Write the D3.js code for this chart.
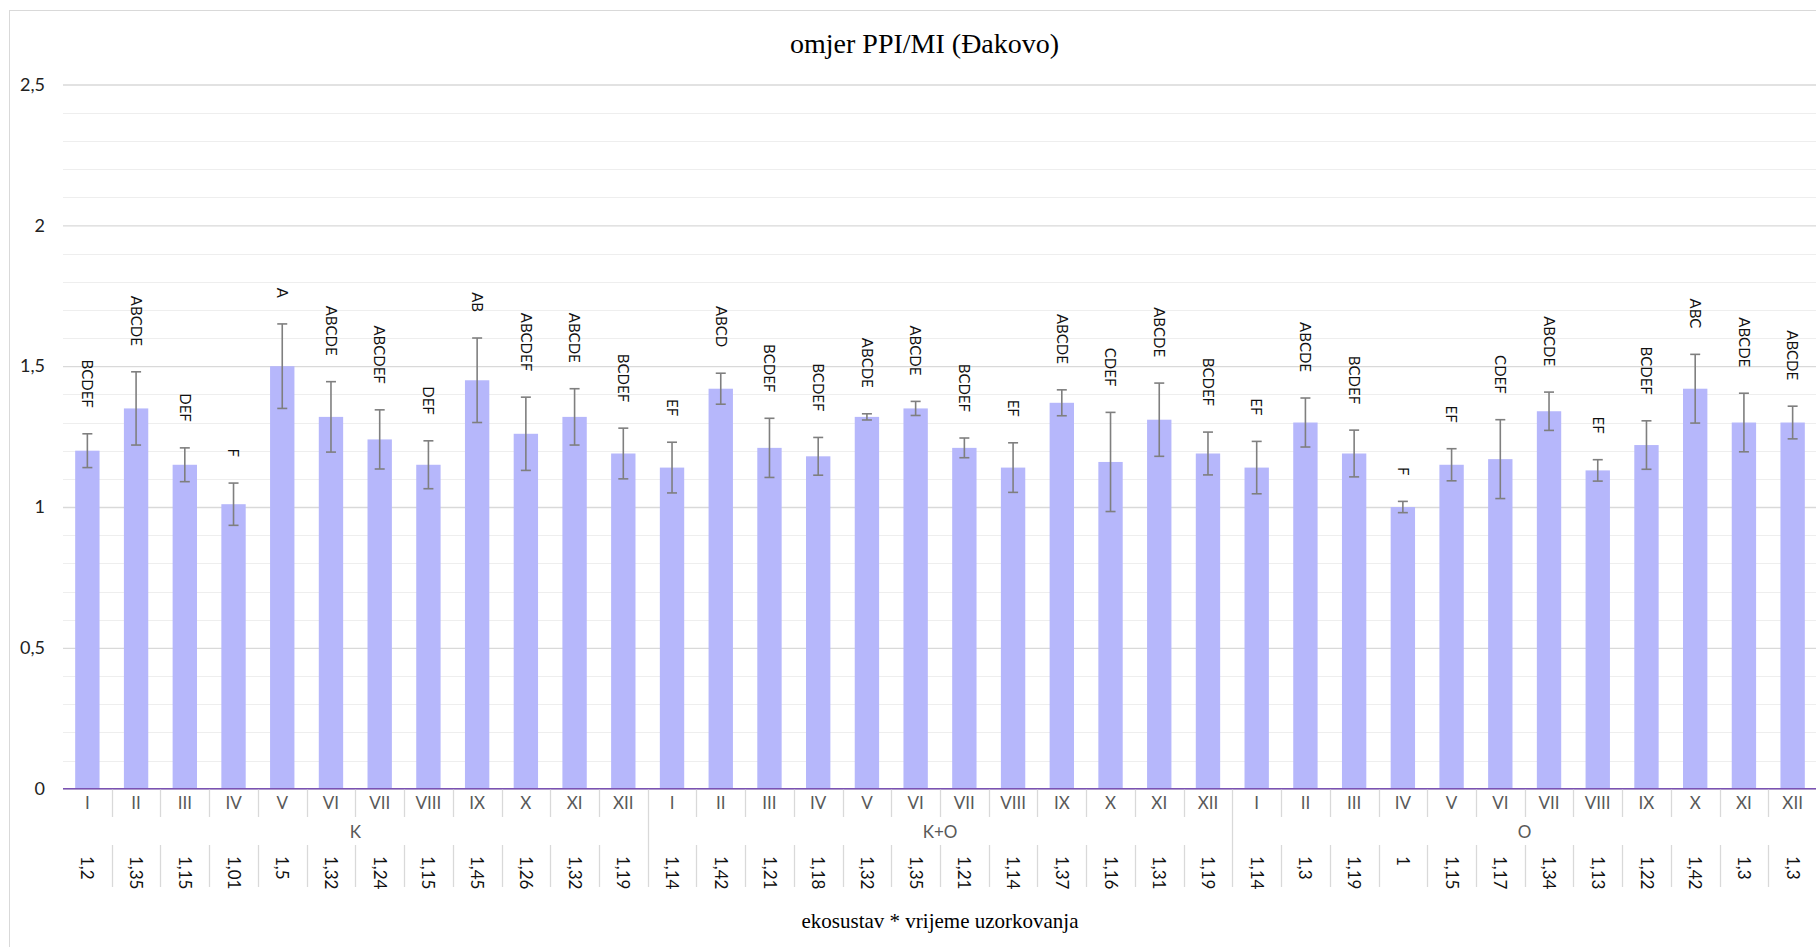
<!DOCTYPE html>
<html>
<head>
<meta charset="utf-8">
<script src="https://cdn.jsdelivr.net/npm/d3@7"></script>
<style>
  body { margin: 0; background: #fff; }
  svg { display: block; }
</style>
</head>
<body>
<svg id="chart"></svg>
<script>
// groups (ekosustav) and sampling months
const groups = ["K", "K+O", "O"];
const months = ["I", "II", "III", "IV", "V", "VI", "VII", "VIII", "IX", "X", "XI", "XII"];

// mean PPI/MI ratio per group x month
const meansK = [1.2, 1.35, 1.15, 1.01, 1.5, 1.32, 1.24, 1.15, 1.45, 1.26, 1.32, 1.19];
const meansKO = [1.14, 1.42, 1.21, 1.18, 1.32, 1.35, 1.21, 1.14, 1.37, 1.16, 1.31, 1.19];
const meansO = [1.14, 1.3, 1.19, 1, 1.15, 1.17, 1.34, 1.13, 1.22, 1.42, 1.3, 1.3];

// error bar half-lengths
const errK = [0.06, 0.13, 0.06, 0.075, 0.15, 0.125, 0.105, 0.085, 0.15, 0.13, 0.1, 0.09];
const errKO = [0.09, 0.055, 0.105, 0.067, 0.011, 0.025, 0.035, 0.088, 0.046, 0.176, 0.13, 0.076];
const errO = [0.093, 0.087, 0.083, 0.02, 0.057, 0.14, 0.068, 0.038, 0.086, 0.122, 0.104, 0.058];

// significance letters
const lettersK = ["BCDEF", "ABCDE", "DEF", "F", "A", "ABCDE", "ABCDEF", "DEF", "AB", "ABCDEF", "ABCDE", "BCDEF"];
const lettersKO = ["EF", "ABCD", "BCDEF", "BCDEF", "ABCDE", "ABCDE", "BCDEF", "EF", "ABCDE", "CDEF", "ABCDE", "BCDEF"];
const lettersO = ["EF", "ABCDE", "BCDEF", "F", "EF", "CDEF", "ABCDE", "EF", "BCDEF", "ABC", "ABCDE", "ABCDE"];

const yTicks = [0, 0.5, 1, 1.5, 2, 2.5];

const title = "omjer PPI/MI (Đakovo)";
const xTitle = "ekosustav * vrijeme uzorkovanja";

const W = 1816, H = 947;
const plot = { left: 63, right: 1817, top: 84.5, bottom: 788.7 };

const allMeans = [meansK, meansKO, meansO];
const allErr = [errK, errKO, errO];
const allLetters = [lettersK, lettersKO, lettersO];

const data = [];
groups.forEach((g, gi) => {
  months.forEach((m, mi) => {
    data.push({
      key: g + "-" + m, group: g, month: m,
      value: allMeans[gi][mi], err: allErr[gi][mi], letter: allLetters[gi][mi]
    });
  });
});

const fmt = (v) => String(v).replace(".", ",");
const sans = "Lato, 'Open Sans', sans-serif";

const svg = d3.select("#chart").attr("width", W).attr("height", H);

// chart border
svg.append("rect")
  .attr("x", 9.5).attr("y", 10.5)
  .attr("width", 1840).attr("height", 940)
  .attr("fill", "#fff")
  .attr("stroke", "#d9d9d9");

const x = d3.scaleBand()
  .domain(data.map((d) => d.key))
  .range([plot.left, plot.right])
  .paddingInner(0).paddingOuter(0);

const y = d3.scaleLinear().domain([0, 2.5]).range([plot.bottom, plot.top]);

// minor gridlines
svg.append("g")
  .selectAll("line")
  .data(d3.range(1, 25).map((i) => i / 10).filter((v) => Math.abs(v * 2 - Math.round(v * 2)) > 1e-6))
  .enter().append("line")
  .attr("x1", plot.left).attr("x2", plot.right)
  .attr("y1", (d) => Math.round(y(d)) + 0.5).attr("y2", (d) => Math.round(y(d)) + 0.5)
  .attr("stroke", "#eeeeee").attr("stroke-width", 1);

// major gridlines + y labels
const yAxis = svg.append("g")
  .attr("transform", `translate(${plot.left},0)`)
  .call(d3.axisLeft(y).tickValues(yTicks).tickSize(-(plot.right - plot.left)).tickFormat(fmt).tickPadding(18));
yAxis.select(".domain").remove();
yAxis.selectAll(".tick line").attr("stroke", "#d9d9d9").attr("stroke-width", 1.3);
yAxis.selectAll(".tick text")
  .attr("font-family", sans)
  .attr("font-size", 18)
  .attr("fill", "#222");

// bars
svg.append("g")
  .selectAll("rect")
  .data(data)
  .enter().append("rect")
  .attr("x", (d) => x(d.key) + x.bandwidth() * 0.25)
  .attr("width", x.bandwidth() * 0.5)
  .attr("y", (d) => y(d.value))
  .attr("height", (d) => y(0) - y(d.value))
  .attr("fill", "#b6b7fb");

// error bars
const eb = svg.append("g").attr("stroke", "#7f7f7f").attr("stroke-width", 1.6);
data.forEach((d) => {
  const cx = x(d.key) + x.bandwidth() / 2;
  const y1 = y(d.value + d.err), y2 = y(d.value - d.err);
  eb.append("line").attr("x1", cx).attr("x2", cx).attr("y1", y1).attr("y2", y2);
  eb.append("line").attr("x1", cx - 5).attr("x2", cx + 5).attr("y1", y1).attr("y2", y1);
  eb.append("line").attr("x1", cx - 5).attr("x2", cx + 5).attr("y1", y2).attr("y2", y2);
});

// significance letters
svg.append("g")
  .selectAll("text")
  .data(data)
  .enter().append("text")
  .attr("transform", (d) => `translate(${x(d.key) + x.bandwidth() / 2},${y(d.value + d.err) - 26}) rotate(90)`)
  .attr("dy", "0.35em")
  .attr("text-anchor", "end")
  .attr("font-family", sans)
  .attr("font-size", 15)
  .attr("fill", "#111")
  .text((d) => d.letter);

// x axis line
svg.append("line")
  .attr("x1", plot.left).attr("x2", plot.right)
  .attr("y1", plot.bottom).attr("y2", plot.bottom)
  .attr("stroke", "#7b52b3").attr("stroke-width", 1.6);

// category separators
const sep = svg.append("g").attr("stroke", "#d9d9d9").attr("stroke-width", 1.3);
data.forEach((d, i) => {
  if (i === 0) return;
  const sx = Math.round(x(d.key)) + 0.5;
  if (i % 12 === 0) {
    sep.append("line").attr("x1", sx).attr("x2", sx).attr("y1", plot.bottom + 1).attr("y2", 887);
  } else {
    sep.append("line").attr("x1", sx).attr("x2", sx).attr("y1", plot.bottom + 1).attr("y2", 817);
    sep.append("line").attr("x1", sx).attr("x2", sx).attr("y1", 845).attr("y2", 887);
  }
});

// month labels
svg.append("g")
  .selectAll("text")
  .data(data)
  .enter().append("text")
  .attr("x", (d) => x(d.key) + x.bandwidth() / 2)
  .attr("y", 809)
  .attr("text-anchor", "middle")
  .attr("font-family", sans)
  .attr("font-size", 17)
  .attr("fill", "#595959")
  .text((d) => d.month);

// group labels
svg.append("g")
  .selectAll("text")
  .data(groups)
  .enter().append("text")
  .attr("x", (g) => {
    const keys = data.filter((d) => d.group === g).map((d) => d.key);
    return (x(keys[0]) + x(keys[keys.length - 1]) + x.bandwidth()) / 2;
  })
  .attr("y", 838)
  .attr("text-anchor", "middle")
  .attr("font-family", sans)
  .attr("font-size", 17)
  .attr("fill", "#595959")
  .text((g) => g);

// value labels (rotated)
svg.append("g")
  .selectAll("text")
  .data(data)
  .enter().append("text")
  .attr("transform", (d) => `translate(${x(d.key) + x.bandwidth() / 2},856) rotate(90)`)
  .attr("dy", "0.35em")
  .attr("text-anchor", "start")
  .attr("font-family", sans)
  .attr("font-size", 17)
  .attr("fill", "#111")
  .text((d) => fmt(d.value));

// titles
svg.append("text")
  .attr("x", 924.6).attr("y", 53)
  .attr("text-anchor", "middle")
  .attr("font-family", "'Liberation Serif', 'Times New Roman', serif")
  .attr("font-size", 28)
  .attr("fill", "#000")
  .text(title);

svg.append("text")
  .attr("x", (plot.left + plot.right) / 2).attr("y", 928)
  .attr("text-anchor", "middle")
  .attr("font-family", "'Liberation Serif', 'Times New Roman', serif")
  .attr("font-size", 21)
  .attr("fill", "#000")
  .text(xTitle);
</script>
</body>
</html>
